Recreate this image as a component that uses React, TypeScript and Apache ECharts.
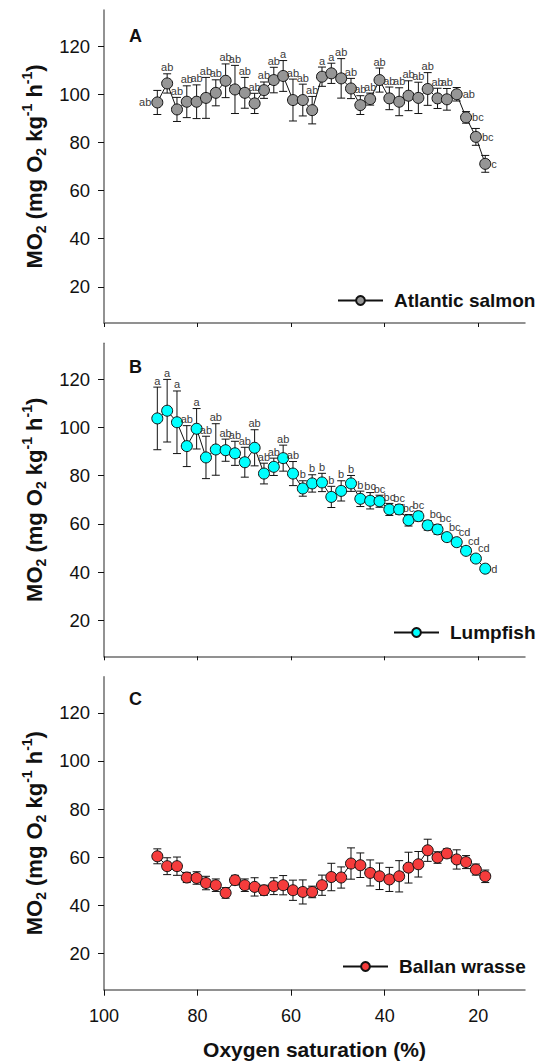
import React, { useEffect, useRef } from 'react';
import * as echarts from 'echarts';

const FONT = '"Liberation Sans", Arial, Helvetica, sans-serif';

// Oxygen saturation (%) of each measurement step (shared by the three species)
const oxygen = [88.6, 86.5, 84.4, 82.3, 80.2, 78.2, 76.1, 74.0, 72.0, 69.9, 67.8, 65.8, 63.7, 61.7, 59.6, 57.5, 55.5, 53.4, 51.4, 49.3, 47.2, 45.2, 43.1, 41.1, 39.0, 36.9, 34.9, 32.8, 30.8, 28.7, 26.7, 24.6, 22.6, 20.5, 18.5];

// A: Atlantic salmon
const salmonMean = [96.6, 104.5, 93.7, 96.9, 96.9, 98.5, 100.6, 105.6, 102.0, 100.6, 96.2, 101.7, 105.9, 107.6, 97.6, 97.6, 93.4, 107.3, 108.7, 106.6, 102.4, 95.5, 98.0, 105.9, 98.3, 96.9, 99.4, 98.5, 102.2, 98.3, 97.9, 100.0, 90.4, 82.3, 71.1];
const salmonSE = [5, 4, 5, 6.6, 7, 8.5, 5.4, 7, 10, 6.4, 4.2, 3.4, 5.3, 6.4, 8.7, 6.6, 5.7, 4, 4.2, 8.2, 4.2, 3.9, 2.5, 5, 4.7, 5.8, 6.2, 6.5, 6.8, 4.2, 4.5, 2.8, 2.4, 3.5, 3.5];
const salmonLetters = ['ab', 'ab', 'ab', 'ab', 'ab', 'ab', 'ab', 'ab', 'ab', 'ab', 'ab', 'ab', 'ab', 'a', 'ab', 'ab', 'ab', 'a', 'a', 'ab', 'ab', 'ab', 'ab', 'ab', 'ab', 'ab', 'ab', 'ab', 'ab', 'ab', 'ab', 'ab', 'bc', 'bc', 'c'];
const salmonLetterPos = ['l', 't', 't', 't', 't', 't', 't', 't', 't', 't', 't', 't', 't', 't', 't', 't', 't', 't', 't', 't', 't', 't', 't', 't', 't', 't', 't', 't', 't', 't', 't', 'r', 'r', 'r', 'r'];

// B: Lumpfish
const lumpMean = [103.8, 107.0, 102.2, 92.3, 99.5, 87.6, 90.9, 90.6, 89.3, 85.6, 91.6, 80.9, 83.7, 87.3, 80.9, 74.7, 76.8, 77.2, 71.2, 73.7, 76.8, 70.4, 69.6, 69.4, 66.0, 66.0, 61.5, 63.2, 59.4, 57.7, 54.5, 52.4, 48.8, 45.6, 41.4];
const lumpSE = [13, 13, 13, 8.5, 8.4, 8.8, 10.7, 4.6, 5, 6.2, 7.5, 4.3, 3.6, 5.4, 5, 3.2, 3.6, 3.8, 4.4, 4.2, 3.3, 3.2, 3.4, 2.5, 2.5, 2, 2.4, 2, 2, 2, 1.5, 1.5, 1.5, 1.5, 1.5];
const lumpLetters = ['a', 'a', 'a', 'ab', 'a', 'ab', 'ab', 'ab', 'ab', 'ab', 'ab', 'ab', 'ab', 'ab', 'ab', 'b', 'b', 'b', 'b', 'b', 'b', 'b', 'bc', 'bc', 'bc', 'bc', 'bc', 'bc', 'bc', 'bc', 'bc', 'cd', 'cd', 'cd', 'd'];
const lumpLetterPos = ['t', 't', 't', 't', 't', 't', 't', 't', 't', 't', 't', 't', 't', 't', 't', 't', 't', 't', 't', 't', 't', 't', 't', 't', 't', 't', 't', 't', 'tr', 'tr', 'tr', 'tr', 'tr', 'tr', 'r'];

// C: Ballan wrasse
const wrasseMean = [60.4, 56.3, 56.3, 51.6, 51.4, 49.3, 48.4, 45.2, 50.5, 48.4, 47.7, 46.3, 48.0, 48.4, 46.3, 45.6, 45.6, 48.4, 51.8, 51.6, 57.4, 56.7, 53.5, 52.1, 50.8, 52.1, 55.7, 57.1, 62.9, 59.9, 61.6, 59.1, 58.0, 54.9, 52.1];
const wrasseSE = [3.1, 3.5, 3.8, 2.1, 2.6, 2.8, 2.6, 2.2, 2, 2.6, 3.8, 2.1, 3.5, 4, 4.2, 5, 2.4, 4.2, 5.7, 4.4, 6.5, 5.1, 5.4, 5.5, 5, 6.5, 6.4, 5.3, 4.6, 2.4, 1.9, 4, 2.7, 2.3, 2.6];

const xTicks = [20, 40, 60, 80, 100];
const yTicks = [20, 40, 60, 80, 100, 120];

const panels = [
  { name: 'Atlantic salmon', letter: 'A', mean: salmonMean, se: salmonSE, letters: salmonLetters, pos: salmonLetterPos, color: '#969696', top: 10, letterTop: 27, legendLeft: 337, legendCenter: 301 },
  { name: 'Lumpfish', letter: 'B', mean: lumpMean, se: lumpSE, letters: lumpLetters, pos: lumpLetterPos, color: '#00FFFF', top: 343.3, letterTop: 358, legendLeft: 393, legendCenter: 633 },
  { name: 'Ballan wrasse', letter: 'C', mean: wrasseMean, se: wrasseSE, letters: [] as string[], pos: [] as string[], color: '#F53C3C', top: 676.7, letterTop: 689.5, legendLeft: 342, legendCenter: 967 },
];

const GRID_LEFT = 104;
const GRID_RIGHT = 13;
const GRID_H = 313;
const AXIS_COLOR = '#6e6e6e';

export default function App() {
  const ref = useRef<HTMLDivElement>(null);

  useEffect(() => {
    const chart = echarts.init(ref.current!, null, { renderer: 'svg' });

    const grid: any[] = [];
    const xAxis: any[] = [];
    const yAxis: any[] = [];
    const series: any[] = [];
    const legend: any[] = [];
    const title: any[] = [];

    panels.forEach((p, k) => {
      const last = k === panels.length - 1;
      grid.push({ left: GRID_LEFT, right: GRID_RIGHT, top: p.top, height: GRID_H });
      xAxis.push({
        type: 'value', gridIndex: k, min: 10, max: 100, inverse: true,
        splitLine: { show: false },
        axisLine: { show: true, lineStyle: { color: AXIS_COLOR, width: 1.5 } },
        axisTick: { show: true, length: last ? 6 : 4, customValues: xTicks, lineStyle: { color: '#111', width: 1 } },
        axisLabel: { show: last, customValues: xTicks, margin: 17, fontSize: 18, color: '#111', fontFamily: FONT },
        name: last ? 'Oxygen saturation (%)' : '',
        nameLocation: 'middle', nameGap: 49,
        nameTextStyle: { fontSize: 21, fontWeight: 'bold', color: '#111', fontFamily: FONT },
      });
      yAxis.push({
        type: 'value', gridIndex: k, min: 5, max: 135,
        splitLine: { show: false },
        axisLine: { show: true, lineStyle: { color: AXIS_COLOR, width: 1.5 } },
        axisTick: { show: true, length: 6, customValues: yTicks, lineStyle: { color: '#111', width: 1 } },
        axisLabel: { customValues: yTicks, margin: 14, fontSize: 18.5, color: '#111', fontFamily: FONT },
        name: '{b|MO}{s|2}{b| (mg O}{s|2}{b| kg}{p|-1}{b| h}{p|-1}{b|)}',
        nameLocation: 'middle', nameGap: 47,
        nameTextStyle: {
          rich: {
            b: { fontSize: 22, fontWeight: 'bold', color: '#111', fontFamily: FONT, lineHeight: 28, verticalAlign: 'middle' },
            s: { fontSize: 14, fontWeight: 'bold', color: '#111', fontFamily: FONT, lineHeight: 14, verticalAlign: 'bottom' },
            p: { fontSize: 14, fontWeight: 'bold', color: '#111', fontFamily: FONT, lineHeight: 14, verticalAlign: 'top' },
          },
        },
      });

      const errData = oxygen.map((x, i) => [x, p.mean[i], p.se[i]]);

      series.push({
        type: 'custom', name: p.name + ' SE', xAxisIndex: k, yAxisIndex: k, z: 1,
        data: errData,
        encode: { x: 0, y: 1 },
        renderItem: (params: any, api: any) => {
          const x = api.value(0), y = api.value(1), e = api.value(2);
          const a = api.coord([x, y + e]);
          const b = api.coord([x, y - e]);
          const c = 4;
          const st = { stroke: '#111', lineWidth: 1 };
          return {
            type: 'group',
            children: [
              { type: 'line', shape: { x1: a[0], y1: a[1], x2: b[0], y2: b[1] }, style: st },
              { type: 'line', shape: { x1: a[0] - c, y1: a[1], x2: a[0] + c, y2: a[1] }, style: st },
              { type: 'line', shape: { x1: b[0] - c, y1: b[1], x2: b[0] + c, y2: b[1] }, style: st },
            ],
          };
        },
      });

      series.push({
        type: 'line', name: p.name, xAxisIndex: k, yAxisIndex: k, z: 2,
        data: oxygen.map((x, i) => [x, p.mean[i]]),
        symbol: 'circle', symbolSize: 11,
        lineStyle: { color: '#111', width: 1 },
        itemStyle: { color: p.color, borderColor: '#111', borderWidth: 1 },
      });

      if (p.letters.length) {
        series.push({
          type: 'custom', name: p.name + ' letters', xAxisIndex: k, yAxisIndex: k, z: 3,
          data: errData,
          encode: { x: 0, y: 1 },
          renderItem: (params: any, api: any) => {
            const i = params.dataIndex;
            const x = api.value(0), y = api.value(1), e = api.value(2);
            const top = api.coord([x, y + e]);
            const ctr = api.coord([x, y]);
            const pos = p.pos[i];
            let tx = top[0], ty = top[1] - 1, align = 'center', va = 'bottom';
            if (pos === 'l') { tx = ctr[0] - 6; ty = ctr[1]; align = 'right'; va = 'middle'; }
            else if (pos === 'r') { tx = ctr[0] + 6; ty = ctr[1]; align = 'left'; va = 'middle'; }
            else if (pos === 'tr') { tx = ctr[0] + 2; ty = top[1] - 1; align = 'left'; va = 'bottom'; }
            return {
              type: 'text',
              style: { text: p.letters[i], x: tx, y: ty, align, verticalAlign: va, fill: '#3a3a3a', fontSize: 11, fontFamily: FONT },
            };
          },
        });
      }

      legend.push({
        data: [p.name], left: p.legendLeft, top: p.legendCenter - 10, orient: 'horizontal',
        itemWidth: 45, itemHeight: 11, padding: 0,
        textStyle: { fontSize: 19, fontWeight: 'bold', color: '#111', fontFamily: FONT, padding: [0, 0, 0, 6] },
      });

      title.push({
        text: p.letter, left: 129, top: p.letterTop, padding: 0,
        textStyle: { fontSize: 18, fontWeight: 'bold', color: '#111', fontFamily: FONT },
      });
    });

    chart.setOption({
      animation: false,
      backgroundColor: '#ffffff',
      title, grid, xAxis, yAxis, series, legend,
    });

    return () => chart.dispose();
  }, []);

  return <div ref={ref} style={{ position: 'absolute', left: 0, top: 0, width: 538, height: 1061 }} />;
}
